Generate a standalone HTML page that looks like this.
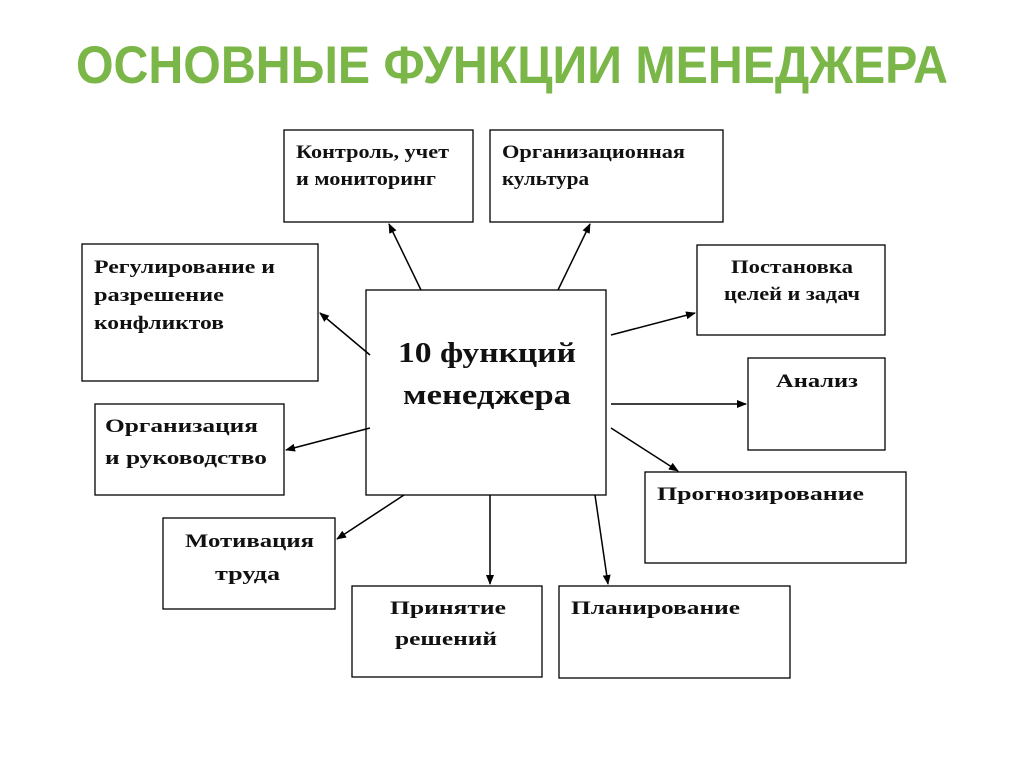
<!DOCTYPE html>
<html><head><meta charset="utf-8"><style>
html,body{margin:0;padding:0;background:#fff;}
svg{display:block}
.t{font-family:"Liberation Serif",serif;font-weight:bold;font-size:19px;fill:#111}
</style></head><body>
<svg width="1024" height="767" viewBox="0 0 1024 767">
<defs><marker id="a" markerWidth="10" markerHeight="8" refX="9" refY="4" orient="auto" markerUnits="userSpaceOnUse"><path d="M0,0L10,4L0,8z" fill="#000"/></marker></defs>
<text x="512" y="83" text-anchor="middle" textLength="872" lengthAdjust="spacingAndGlyphs" font-family="Liberation Sans,sans-serif" font-weight="bold" font-size="53" fill="#7ab648">ОСНОВНЫЕ ФУНКЦИИ МЕНЕДЖЕРА</text>
<g fill="#fff" stroke="#000" stroke-width="1.3">
<rect x="284" y="130" width="189" height="92"/>
<rect x="490" y="130" width="233" height="92"/>
<rect x="82" y="244" width="236" height="137"/>
<rect x="366" y="290" width="240" height="205"/>
<rect x="697" y="245" width="188" height="90"/>
<rect x="748" y="358" width="137" height="92"/>
<rect x="95" y="404" width="189" height="91"/>
<rect x="645" y="472" width="261" height="91"/>
<rect x="163" y="518" width="172" height="91"/>
<rect x="352" y="586" width="190" height="91"/>
<rect x="559" y="586" width="231" height="92"/>
</g>
<g stroke="#000" stroke-width="1.5" marker-end="url(#a)">
<line x1="421" y1="290" x2="389" y2="224"/>
<line x1="558" y1="290" x2="590" y2="224"/>
<line x1="370" y1="355" x2="320" y2="313"/>
<line x1="611" y1="335" x2="695" y2="313"/>
<line x1="611" y1="404" x2="746" y2="404"/>
<line x1="611" y1="428" x2="678" y2="471"/>
<line x1="370" y1="428" x2="286" y2="450"/>
<line x1="404" y1="495" x2="337" y2="539"/>
<line x1="490" y1="495" x2="490" y2="584"/>
<line x1="595" y1="495" x2="608" y2="584"/>
</g>
<g class="t" lengthAdjust="spacingAndGlyphs">
<text x="296" y="158" textLength="153" lengthAdjust="spacingAndGlyphs">Контроль, учет</text>
<text x="296" y="185" textLength="140" lengthAdjust="spacingAndGlyphs">и мониторинг</text>
<text x="502" y="158" textLength="183" lengthAdjust="spacingAndGlyphs">Организационная</text>
<text x="502" y="185" textLength="87" lengthAdjust="spacingAndGlyphs">культура</text>
<text x="94" y="273" textLength="181" lengthAdjust="spacingAndGlyphs">Регулирование и</text>
<text x="94" y="301" textLength="130" lengthAdjust="spacingAndGlyphs">разрешение</text>
<text x="94" y="329" textLength="130" lengthAdjust="spacingAndGlyphs">конфликтов</text>
<text x="731" y="273" textLength="122" lengthAdjust="spacingAndGlyphs">Постановка</text>
<text x="724" y="300" textLength="136" lengthAdjust="spacingAndGlyphs">целей и задач</text>
<text x="776" y="387" textLength="82" lengthAdjust="spacingAndGlyphs">Анализ</text>
<text x="105" y="432" textLength="153" lengthAdjust="spacingAndGlyphs">Организация</text>
<text x="105" y="464" textLength="162" lengthAdjust="spacingAndGlyphs">и руководство</text>
<text x="657" y="500" textLength="207" lengthAdjust="spacingAndGlyphs">Прогнозирование</text>
<text x="185" y="547" textLength="129" lengthAdjust="spacingAndGlyphs">Мотивация</text>
<text x="215" y="580" textLength="65" lengthAdjust="spacingAndGlyphs">труда</text>
<text x="390" y="614" textLength="116" lengthAdjust="spacingAndGlyphs">Принятие</text>
<text x="395" y="645" textLength="102" lengthAdjust="spacingAndGlyphs">решений</text>
<text x="571" y="614" textLength="169" lengthAdjust="spacingAndGlyphs">Планирование</text>
</g>
<g font-family="Liberation Serif,serif" font-weight="bold" font-size="28" fill="#111">
<text x="398" y="362" textLength="178" lengthAdjust="spacingAndGlyphs">10 функций</text>
<text x="403" y="404" textLength="168" lengthAdjust="spacingAndGlyphs">менеджера</text>
</g>
</svg>
</body></html>
